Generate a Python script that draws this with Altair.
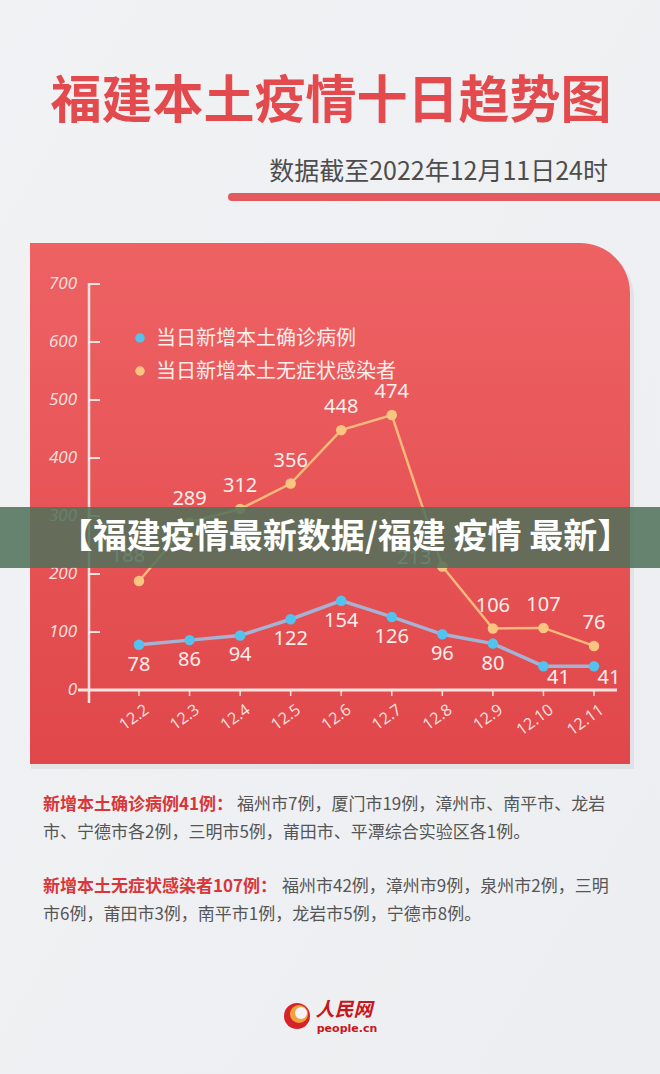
import altair as alt
import pandas as pd

# ---------------- data ----------------
dates = ["12.2", "12.3", "12.4", "12.5", "12.6", "12.7", "12.8", "12.9", "12.10", "12.11"]
confirmed = [78, 86, 94, 122, 154, 126, 96, 80, 41, 41]
asymptomatic = [188, 289, 312, 356, 448, 474, 213, 106, 107, 76]
series_names = ["当日新增本土确诊病例", "当日新增本土无症状感染者"]
y_ticks = [0, 100, 200, 300, 400, 500, 600, 700]

title_text = "福建本土疫情十日趋势图"
subtitle_text = "数据截至2022年12月11日24时"
banner_text = "【福建疫情最新数据/福建 疫情 最新】"
note1_bold = "新增本土确诊病例41例："
note1_rest = ["福州市7例，厦门市19例，漳州市、南平市、龙岩",
              "市、宁德市各2例，三明市5例，莆田市、平潭综合实验区各1例。"]
note2_bold = "新增本土无症状感染者107例："
note2_rest = ["福州市42例，漳州市9例，泉州市2例，三明",
              "市6例，莆田市3例，南平市1例，龙岩市5例，宁德市8例。"]
logo_cn = "人民网"
logo_en = "people.cn"

# ---------------- frames ----------------
idx = list(range(len(dates)))
df_c = pd.DataFrame({"idx": idx, "date": dates, "value": confirmed})
df_a = pd.DataFrame({"idx": idx, "date": dates, "value": asymptomatic})
df_ticks = pd.DataFrame({"value": y_ticks})
df_dates = pd.DataFrame({"idx": idx, "date": dates})
one = pd.DataFrame({"a": [0]})

CJK = "Noto Sans CJK SC"
X = alt.X("idx:Q", scale=alt.Scale(domain=[0, 9], range=[139, 594], nice=False, zero=False), axis=None)
Y = alt.Y("value:Q", scale=alt.Scale(domain=[0, 700], range=[690, 284], nice=False, zero=False), axis=None)

AXIS_COL = "#f9e2e0"
LABEL_COL = "#fdeeec"
BLUE_LINE = "#a6b2d4"
BLUE_PT = "#52c3ef"
ORANGE_LINE = "#f7b87c"
ORANGE_PT = "#fac481"

layers = []

# background
layers.append(alt.Chart(one).mark_rect(
    color=alt.Gradient(gradient="linear", x1=0, x2=1, y1=0, y2=1,
                       stops=[alt.GradientStop(color="#f1f2f4", offset=0),
                              alt.GradientStop(color="#eceef1", offset=1)])
).encode(x=alt.value(0), x2=alt.value(660), y=alt.value(0), y2=alt.value(1074)))

# title
layers.append(alt.Chart(one).mark_text(
    text=title_text, font=CJK, fontSize=51, fontWeight="bold", color="#e34a4e",
    align="center", baseline="middle"
).encode(x=alt.value(331), y=alt.value(103)))

# subtitle
layers.append(alt.Chart(one).mark_text(
    text=subtitle_text, font=CJK, fontSize=25, color="#4d4d4d",
    align="right", baseline="middle"
).encode(x=alt.value(608), y=alt.value(172)))

# red bar under subtitle
layers.append(alt.Chart(one).mark_rule(color="#e35b5f", strokeWidth=8, strokeCap="round").encode(
    x=alt.value(232), x2=alt.value(720), y=alt.value(197)))

# panel shadow + panel
layers.append(alt.Chart(one).mark_rect(color="#000000", opacity=0.05, cornerRadiusTopRight=52).encode(
    x=alt.value(31), x2=alt.value(634), y=alt.value(246), y2=alt.value(769)))
layers.append(alt.Chart(one).mark_rect(
    cornerRadiusTopRight=50,
    color=alt.Gradient(gradient="linear", x1=0, x2=0, y1=0, y2=1,
                       stops=[alt.GradientStop(color="#ee6264", offset=0),
                              alt.GradientStop(color="#e0474a", offset=1)])
).encode(x=alt.value(30), x2=alt.value(630), y=alt.value(243), y2=alt.value(764)))

# y axis
layers.append(alt.Chart(one).mark_rule(color=AXIS_COL, strokeWidth=2.5).encode(
    x=alt.value(89), y=alt.value(283), y2=alt.value(703)))
layers.append(alt.Chart(df_ticks).transform_filter(alt.datum.value > 0).mark_rule(
    color=AXIS_COL, strokeWidth=2).encode(x=alt.value(89), x2=alt.value(100), y=Y))
layers.append(alt.Chart(df_ticks).mark_text(
    font="Open Sans", fontSize=17, fontStyle="italic", color=AXIS_COL,
    align="right", baseline="middle").encode(x=alt.value(77), y=Y, text="value:Q"))

# x axis
layers.append(alt.Chart(one).mark_rule(color=AXIS_COL, strokeWidth=3).encode(
    x=alt.value(78), x2=alt.value(617), y=alt.value(690)))
layers.append(alt.Chart(df_dates).mark_rule(color=AXIS_COL, strokeWidth=1.5).encode(
    x=X, y=alt.value(690), y2=alt.value(696)))
layers.append(alt.Chart(df_dates).mark_text(
    font="Open Sans", fontSize=16, color=AXIS_COL, angle=324,
    align="right", baseline="middle", xOffset=8).encode(x=X, y=alt.value(708), text="date:N"))

# lines
layers.append(alt.Chart(df_a).mark_line(color=ORANGE_LINE, strokeWidth=2.5).encode(x=X, y=Y))
layers.append(alt.Chart(df_c).mark_line(color=BLUE_LINE, strokeWidth=3.5).encode(x=X, y=Y))
# points
layers.append(alt.Chart(df_a).mark_circle(color=ORANGE_PT, size=110, opacity=1).encode(x=X, y=Y))
layers.append(alt.Chart(df_c).mark_circle(color=BLUE_PT, size=110, opacity=1).encode(x=X, y=Y))

# value labels
lbl = dict(font="Noto Sans", fontSize=20, color=LABEL_COL, align="center", baseline="middle")
layers.append(alt.Chart(df_c).transform_filter(alt.datum.idx <= 7).mark_text(dy=20, **lbl).encode(
    x=X, y=Y, text="value:Q"))
layers.append(alt.Chart(df_c).transform_filter(alt.datum.idx >= 8).mark_text(dx=15, dy=12, **lbl).encode(
    x=X, y=Y, text="value:Q"))
layers.append(alt.Chart(df_a).transform_filter((alt.datum.idx != 0) & (alt.datum.idx != 6)).mark_text(
    dy=-23, **lbl).encode(x=X, y=Y, text="value:Q"))
layers.append(alt.Chart(df_a).transform_filter(alt.datum.idx == 0).mark_text(
    dx=-11, dy=-25, **lbl).encode(x=X, y=Y, text="value:Q"))
layers.append(alt.Chart(df_a).transform_filter(alt.datum.idx == 6).mark_text(
    dx=-28, dy=-8, **lbl).encode(x=X, y=Y, text="value:Q"))

# legend
layers.append(alt.Chart(one).mark_circle(color=BLUE_PT, size=90, opacity=1).encode(
    x=alt.value(140), y=alt.value(338)))
layers.append(alt.Chart(one).mark_circle(color=ORANGE_PT, size=90, opacity=1).encode(
    x=alt.value(140), y=alt.value(371)))
layers.append(alt.Chart(one).mark_text(text=series_names[0], font=CJK, fontSize=20, color=LABEL_COL,
                                       align="left", baseline="middle").encode(x=alt.value(156), y=alt.value(339)))
layers.append(alt.Chart(one).mark_text(text=series_names[1], font=CJK, fontSize=20, color=LABEL_COL,
                                       align="left", baseline="middle").encode(x=alt.value(156), y=alt.value(372)))

# banner overlay
layers.append(alt.Chart(one).mark_rect(color="#4f715a", opacity=0.86).encode(
    x=alt.value(0), x2=alt.value(660), y=alt.value(507), y2=alt.value(568)))
layers.append(alt.Chart(one).mark_text(text=banner_text, font=CJK, fontSize=34, fontWeight="bold",
                                       color="#ffffff", align="center", baseline="middle").encode(
    x=alt.value(345), y=alt.value(538)))

# notes
note_red = "#d8363a"
note_grey = "#555555"
layers.append(alt.Chart(one).mark_text(text=note1_bold, font=CJK, fontSize=17, fontWeight="bold",
                                       color=note_red, align="left", baseline="middle").encode(
    x=alt.value(43), y=alt.value(805)))
layers.append(alt.Chart(one).mark_text(text=note1_rest[0], font=CJK, fontSize=17, color=note_grey,
                                       align="left", baseline="middle").encode(x=alt.value(237), y=alt.value(805)))
layers.append(alt.Chart(one).mark_text(text=note1_rest[1], font=CJK, fontSize=17, color=note_grey,
                                       align="left", baseline="middle").encode(x=alt.value(43), y=alt.value(833)))
layers.append(alt.Chart(one).mark_text(text=note2_bold, font=CJK, fontSize=17, fontWeight="bold",
                                       color=note_red, align="left", baseline="middle").encode(
    x=alt.value(43), y=alt.value(887)))
layers.append(alt.Chart(one).mark_text(text=note2_rest[0], font=CJK, fontSize=17, color=note_grey,
                                       align="left", baseline="middle").encode(x=alt.value(282), y=alt.value(887)))
layers.append(alt.Chart(one).mark_text(text=note2_rest[1], font=CJK, fontSize=17, color=note_grey,
                                       align="left", baseline="middle").encode(x=alt.value(43), y=alt.value(915)))

# logo
layers.append(alt.Chart(one).mark_arc(color="#d6232a").encode(
    x=alt.value(297), y=alt.value(1016), radius=alt.value(13), theta=alt.value(0), theta2=alt.value(6.2832)))
layers.append(alt.Chart(one).mark_arc(color="#f2a13c").encode(
    x=alt.value(299), y=alt.value(1014), radius=alt.value(9), theta=alt.value(0), theta2=alt.value(6.2832)))
layers.append(alt.Chart(one).mark_arc(color="#f3f4f6").encode(
    x=alt.value(301), y=alt.value(1013), radius=alt.value(6), theta=alt.value(0), theta2=alt.value(6.2832)))
layers.append(alt.Chart(one).mark_text(text=logo_cn, font=CJK, fontSize=19, fontWeight="bold", fontStyle="italic",
                                       color="#c8161d", align="center", baseline="middle").encode(
    x=alt.value(344), y=alt.value(1010)))
layers.append(alt.Chart(one).mark_text(text=logo_en, font="DejaVu Sans", fontSize=11, fontWeight="bold",
                                       color="#c8161d", align="center", baseline="middle").encode(
    x=alt.value(347), y=alt.value(1029)))

chart = alt.layer(*layers).properties(
    width=660, height=1074, autosize="none", padding=0
).configure_view(stroke=None).configure(background="#eef0f3")

chart.save("out.html", embed_options={"renderer": "svg", "actions": False})
